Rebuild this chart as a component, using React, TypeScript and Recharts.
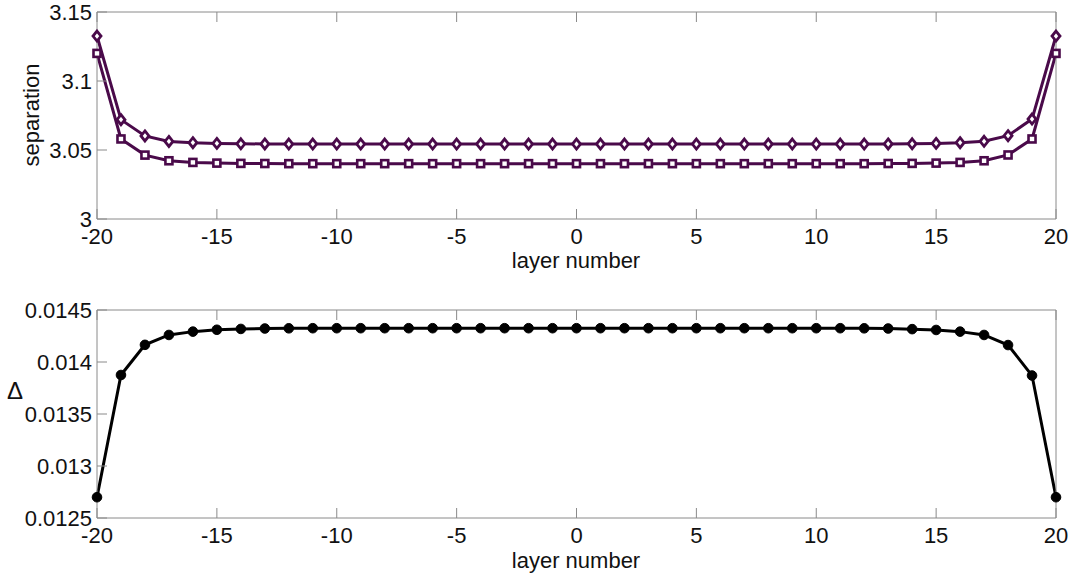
import React from "react";
import { LineChart, Line, XAxis, YAxis } from "recharts";

const layers = [-20, -19, -18, -17, -16, -15, -14, -13, -12, -11, -10, -9, -8, -7, -6, -5, -4, -3, -2, -1, 0, 1, 2, 3, 4, 5, 6, 7, 8, 9, 10, 11, 12, 13, 14, 15, 16, 17, 18, 19, 20];

const separationDiamond = [3.1326, 3.0720, 3.0602, 3.0562, 3.0553, 3.0548, 3.0545, 3.0544, 3.0543, 3.0543, 3.0543, 3.0543, 3.0543, 3.0543, 3.0543, 3.0543, 3.0543, 3.0543, 3.0543, 3.0543, 3.0543, 3.0543, 3.0543, 3.0543, 3.0543, 3.0543, 3.0543, 3.0543, 3.0543, 3.0543, 3.0543, 3.0543, 3.0543, 3.0544, 3.0545, 3.0548, 3.0553, 3.0563, 3.0604, 3.0724, 3.1326];

const separationSquare = [3.1200, 3.0580, 3.0463, 3.0422, 3.0410, 3.0405, 3.0403, 3.0402, 3.0401, 3.0401, 3.0401, 3.0401, 3.0401, 3.0401, 3.0401, 3.0401, 3.0401, 3.0401, 3.0401, 3.0401, 3.0401, 3.0401, 3.0401, 3.0401, 3.0401, 3.0401, 3.0401, 3.0401, 3.0401, 3.0401, 3.0401, 3.0401, 3.0401, 3.0402, 3.0403, 3.0405, 3.0410, 3.0422, 3.0464, 3.0580, 3.1200];

const deltaValues = [0.01270, 0.013875, 0.014165, 0.014260, 0.014292, 0.014310, 0.014318, 0.014322, 0.014324, 0.014325, 0.014325, 0.014325, 0.014325, 0.014325, 0.014325, 0.014325, 0.014325, 0.014325, 0.014325, 0.014325, 0.014325, 0.014325, 0.014325, 0.014325, 0.014325, 0.014325, 0.014325, 0.014325, 0.014325, 0.014325, 0.014325, 0.014325, 0.014324, 0.014322, 0.014316, 0.014308, 0.014292, 0.014260, 0.014163, 0.013870, 0.01270];

const xTicks = [-20, -15, -10, -5, 0, 5, 10, 15, 20];
const sepTicks = [3, 3.05, 3.1, 3.15];
const deltaTicks = [0.0125, 0.013, 0.0135, 0.014, 0.0145];

const sepData = layers.map((x, i) => ({ x, a: separationDiamond[i], b: separationSquare[i] }));
const deltaData = layers.map((x, i) => ({ x, d: deltaValues[i] }));

const PURPLE = "#4a0a4a";
const AXIS = "#8a8a8a";
const TEXT = "#111";
const FONT = "'Liberation Sans', Arial, sans-serif";
const FS = 22;
const TICK = 10;

const XTickBottom = (p: any) => (
  <g>
    <line x1={p.x} x2={p.x} y1={p.y} y2={p.y - TICK} stroke={AXIS} strokeWidth={1} />
    <text x={p.x} y={p.y + 25} textAnchor="middle" fontSize={FS} fontFamily={FONT} fill={TEXT}>
      {p.payload.value}
    </text>
  </g>
);
const XTickTop = (p: any) => (
  <line x1={p.x} x2={p.x} y1={p.y} y2={p.y + TICK} stroke={AXIS} strokeWidth={1} />
);
const YTickLeft = (p: any) => (
  <g>
    <line x1={p.x} x2={p.x + TICK} y1={p.y} y2={p.y} stroke={AXIS} strokeWidth={1} />
    <text x={p.x - 5} y={p.y + 8} textAnchor="end" fontSize={FS} fontFamily={FONT} fill={TEXT}>
      {String(p.payload.value)}
    </text>
  </g>
);
const YTickRight = (p: any) => (
  <line x1={p.x} x2={p.x - TICK} y1={p.y} y2={p.y} stroke={AXIS} strokeWidth={1} />
);

const DiamondDot = (p: any) => {
  const { cx, cy } = p;
  if (cx == null || cy == null) return null;
  return (
    <polygon
      key={`d${p.index}`}
      points={`${cx},${cy - 5} ${cx + 4},${cy} ${cx},${cy + 5} ${cx - 4},${cy}`}
      fill="#fff"
      stroke={PURPLE}
      strokeWidth={2.8}
    />
  );
};
const SquareDot = (p: any) => {
  const { cx, cy } = p;
  if (cx == null || cy == null) return null;
  return <rect key={`s${p.index}`} x={cx - 3.5} y={cy - 3.5} width={7} height={7} fill="#fff" stroke={PURPLE} strokeWidth={2.6} />;
};
const CircleDot = (p: any) => {
  const { cx, cy } = p;
  if (cx == null || cy == null) return null;
  return <circle key={`c${p.index}`} cx={cx} cy={cy} r={4.8} fill="#000" stroke="#000" strokeWidth={1} />;
};

export default function App() {
  return (
    <div style={{ position: "absolute", left: 0, top: 0, width: 1082, height: 585, background: "#fff" }}>
      <div style={{ position: "absolute", left: 0, top: 0 }}>
        <LineChart width={1082} height={290} data={sepData} margin={{ top: 11, right: 25, bottom: 70, left: 96 }}>
          <XAxis xAxisId="b" dataKey="x" type="number" domain={[-20, 20]} ticks={xTicks} orientation="bottom" height={1} tickSize={0} tickMargin={0} tickLine={false} axisLine={{ stroke: AXIS }} tick={XTickBottom} interval={0} />
          <XAxis xAxisId="t" dataKey="x" type="number" domain={[-20, 20]} ticks={xTicks} orientation="top" height={1} tickSize={0} tickMargin={0} tickLine={false} axisLine={{ stroke: AXIS }} tick={XTickTop} interval={0} />
          <YAxis yAxisId="l" type="number" domain={[3, 3.15]} ticks={sepTicks} orientation="left" width={1} tickSize={0} tickMargin={0} tickLine={false} axisLine={{ stroke: AXIS }} tick={YTickLeft} interval={0} />
          <YAxis yAxisId="r" type="number" domain={[3, 3.15]} ticks={sepTicks} orientation="right" width={1} tickSize={0} tickMargin={0} tickLine={false} axisLine={{ stroke: AXIS }} tick={YTickRight} interval={0} />
          <Line xAxisId="b" yAxisId="l" dataKey="a" stroke={PURPLE} strokeWidth={3} dot={DiamondDot} isAnimationActive={false} />
          <Line xAxisId="b" yAxisId="l" dataKey="b" stroke={PURPLE} strokeWidth={3} dot={SquareDot} isAnimationActive={false} />
        </LineChart>
      </div>
      <div style={{ position: "absolute", left: 0, top: 290 }}>
        <LineChart width={1082} height={295} data={deltaData} margin={{ top: 19, right: 25, bottom: 66, left: 96 }}>
          <XAxis xAxisId="b" dataKey="x" type="number" domain={[-20, 20]} ticks={xTicks} orientation="bottom" height={1} tickSize={0} tickMargin={0} tickLine={false} axisLine={{ stroke: AXIS }} tick={XTickBottom} interval={0} />
          <XAxis xAxisId="t" dataKey="x" type="number" domain={[-20, 20]} ticks={xTicks} orientation="top" height={1} tickSize={0} tickMargin={0} tickLine={false} axisLine={{ stroke: AXIS }} tick={XTickTop} interval={0} />
          <YAxis yAxisId="l" type="number" domain={[0.0125, 0.0145]} ticks={deltaTicks} orientation="left" width={1} tickSize={0} tickMargin={0} tickLine={false} axisLine={{ stroke: AXIS }} tick={YTickLeft} interval={0} />
          <YAxis yAxisId="r" type="number" domain={[0.0125, 0.0145]} ticks={deltaTicks} orientation="right" width={1} tickSize={0} tickMargin={0} tickLine={false} axisLine={{ stroke: AXIS }} tick={YTickRight} interval={0} />
          <Line xAxisId="b" yAxisId="l" dataKey="d" stroke="#000" strokeWidth={3} dot={CircleDot} isAnimationActive={false} />
        </LineChart>
      </div>
      <svg width={1082} height={585} style={{ position: "absolute", left: 0, top: 0, pointerEvents: "none" }}>
        <text x={576} y={268} textAnchor="middle" fontSize={FS} fontFamily={FONT} fill={TEXT}>layer number</text>
        <text x={576} y={568} textAnchor="middle" fontSize={FS} fontFamily={FONT} fill={TEXT}>layer number</text>
        <text x={39} y={115} textAnchor="middle" fontSize={FS} fontFamily={FONT} fill={TEXT} transform="rotate(-90 39 115)">separation</text>
        <text x={7} y={399} fontSize={24} fontFamily={FONT} fill={TEXT}>Δ</text>
      </svg>
    </div>
  );
}
